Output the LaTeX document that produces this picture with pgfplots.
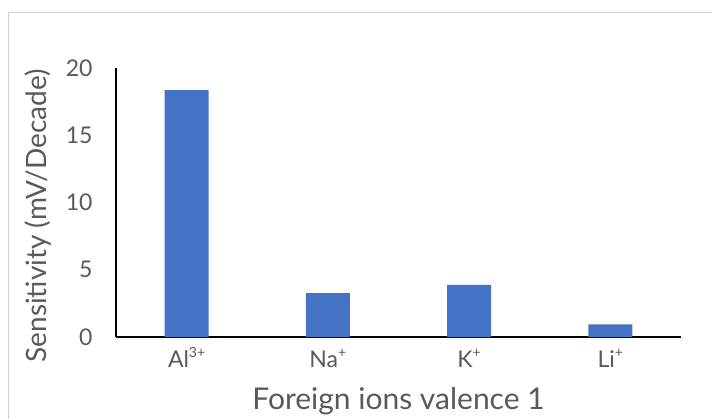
\documentclass[border=0pt]{standalone}
\usepackage{pgfplots}
\pgfplotsset{compat=1.18}
\usepackage{fontspec}
\setmainfont{Lato}
\definecolor{barblue}{HTML}{4472C4}
\definecolor{txtgray}{HTML}{595959}
\definecolor{framegray}{HTML}{D0D0D0}
\newcommand{\supx}[1]{\raisebox{0.42em}{\fontsize{14bp}{16bp}\selectfont #1}}
\begin{document}
\begin{tikzpicture}
\useasboundingbox (0,0) rectangle (712bp,419bp);
\clip (0,0) rectangle (712bp,419bp);
\draw[framegray, line width=1.2bp] (8.5bp,406.5bp) rectangle (740bp,-30bp);
\begin{axis}[
  at={(116bp,82bp)}, anchor=south west,
  scale only axis, width=565bp, height=269bp,
  xmin=-0.5, xmax=3.5, ymin=0, ymax=20,
  ybar, bar width=44bp,
  xtick={0,1,2,3},
  xticklabels={Al\supx{3+}, Na\supx{+}, K\supx{+}, Li\supx{+}},
  ytick={0,5,10,15,20},
  major tick length=0pt,
  axis x line*=bottom, axis y line*=left,
  axis line style={black, line width=1.2bp, -},
  /pgf/number format/assume math mode=true,
  ticklabel style={font=\fontsize{23bp}{26bp}\selectfont, text=txtgray},
  yticklabel style={anchor=east, xshift=-20bp},
  xticklabel style={anchor=base, yshift=-30bp},
  xlabel={Foreign ions valence 1},
  ylabel={Sensitivity (mV/Decade)},
  xlabel style={font=\fontsize{30bp}{34bp}\selectfont, text=txtgray, at={(axis description cs:0.5,-0.271)}, anchor=base},
  ylabel style={font=\fontsize{28bp}{32bp}\selectfont, text=txtgray, at={(axis description cs:-0.138,0.45)}, anchor=center},
  clip=false,
]
\addplot[fill=barblue, draw=none] coordinates {(0,18.36) (1,3.27) (2,3.87) (3,0.94)};
\end{axis}
\end{tikzpicture}
\end{document}
